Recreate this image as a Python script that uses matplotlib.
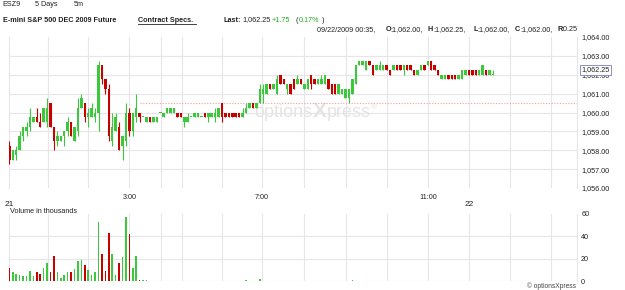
import numpy as np
import matplotlib
matplotlib.use('Agg')
import matplotlib.pyplot as plt
from matplotlib.lines import Line2D
from matplotlib.transforms import blended_transform_factory

plt.rcParams['font.family'] = ['Liberation Sans', 'DejaVu Sans']

################################################################################
# 5 minute bars, ESZ9
opens = [
    1058.25, 1057.5, 1057.75, 1058.0, 1058.75, 1059.0, 1059.25, 1059.5, 1059.75, 1059.5,
    1059.5, 1059.5, 1060.5, 1059.25, 1058.5, 1058.5, 1058.75, 1059.0, 1059.5, 1058.5,
    1059.0, 1060.25, 1060.5, 1059.75, 1059.75, 1059.75, 1060.0, 1062.5, 1061.75, 1061.25,
    1058.5, 1059.0, 1059.25, 1058.25, 1058.5, 1060.0, 1059.0, 1059.75, 1060.0, 1059.75,
    1059.5, 1059.75, 1059.5, 1059.5, 1060.0, 1059.75, 1060.0, 1060.0, 1060.0, 1060.0,
    1060.0, 1059.5, 1059.5, 1059.75, 1059.75, 1059.75, 1059.75, 1060.0, 1059.75, 1059.75,
    1059.75, 1059.75, 1060.5, 1060.0, 1060.0, 1060.0, 1060.0, 1060.0, 1059.75, 1060.0,
    1060.25, 1060.5, 1060.25, 1060.5, 1061.0, 1061.0, 1061.5, 1061.25, 1061.0, 1062.0,
    1061.75, 1061.25, 1061.5, 1061.75, 1061.5, 1061.75, 1061.25, 1061.25, 1062.0, 1061.75,
    1061.5, 1061.5, 1061.5, 1061.75, 1061.5, 1061.5, 1061.0, 1061.0, 1060.75, 1060.75,
    1061.0, 1061.5, 1062.5, 1062.5, 1062.25, 1062.75, 1062.5, 1062.25, 1062.25, 1062.25,
    1062.5, 1062.25, 1062.25, 1062.5, 1062.5, 1062.25, 1062.5, 1062.5, 1062.25, 1062.0,
    1062.25, 1062.5, 1062.5, 1062.75, 1062.5, 1062.25, 1061.75, 1061.75, 1062.0, 1062.0,
    1062.0, 1061.75, 1061.75, 1062.0, 1062.25, 1062.25, 1062.25, 1062.0, 1062.0, 1062.25,
    1062.0, 1062.0]
highs = [
    1058.5, 1058.0, 1058.25, 1059.0, 1059.25, 1059.5, 1060.25, 1059.75, 1060.25, 1060.0,
    1060.25, 1060.75, 1060.5, 1059.25, 1059.0, 1058.75, 1059.0, 1059.75, 1059.5, 1059.25,
    1060.75, 1061.0, 1060.5, 1060.25, 1060.5, 1060.25, 1062.75, 1062.5, 1061.75, 1061.5,
    1060.0, 1060.0, 1059.5, 1058.75, 1060.5, 1060.25, 1060.0, 1061.0, 1060.0, 1059.75,
    1059.75, 1059.75, 1059.75, 1059.75, 1060.0, 1060.0, 1060.25, 1060.25, 1060.25, 1060.0,
    1060.0, 1059.75, 1060.0, 1059.75, 1060.0, 1060.0, 1059.75, 1060.0, 1060.0, 1060.0,
    1060.25, 1060.25, 1060.5, 1060.0, 1060.0, 1060.0, 1060.0, 1060.0, 1060.25, 1060.5,
    1060.5, 1060.5, 1060.5, 1061.5, 1061.5, 1061.5, 1061.5, 1061.5, 1062.0, 1062.0,
    1061.75, 1061.5, 1061.5, 1061.75, 1062.0, 1061.75, 1061.5, 1061.75, 1062.0, 1061.75,
    1061.75, 1062.0, 1062.0, 1061.75, 1061.5, 1061.5, 1061.5, 1061.25, 1061.25, 1061.25,
    1061.75, 1062.5, 1062.75, 1062.75, 1062.75, 1062.75, 1062.5, 1062.5, 1062.75, 1062.5,
    1062.5, 1062.25, 1062.5, 1062.5, 1062.5, 1062.5, 1062.5, 1062.5, 1062.25, 1062.25,
    1062.5, 1062.5, 1062.75, 1062.75, 1062.5, 1062.25, 1062.0, 1062.0, 1062.0, 1062.0,
    1062.0, 1062.0, 1062.25, 1062.25, 1062.25, 1062.25, 1062.25, 1062.25, 1062.5, 1062.25,
    1062.25, 1062.25]
lows = [
    1057.25, 1057.5, 1057.5, 1058.0, 1058.5, 1058.75, 1059.0, 1059.5, 1059.5, 1059.25,
    1059.5, 1059.25, 1059.25, 1058.0, 1058.25, 1058.5, 1058.25, 1058.75, 1058.75, 1058.5,
    1058.75, 1060.25, 1059.5, 1059.25, 1059.75, 1059.5, 1059.0, 1061.5, 1061.0, 1058.5,
    1058.25, 1059.0, 1058.0, 1057.5, 1058.25, 1058.75, 1058.75, 1059.5, 1059.5, 1059.75,
    1059.5, 1059.5, 1059.5, 1059.5, 1060.0, 1059.75, 1060.0, 1060.0, 1060.0, 1059.75,
    1059.75, 1059.25, 1059.5, 1059.75, 1059.75, 1059.75, 1059.75, 1059.75, 1059.5, 1059.75,
    1059.5, 1059.75, 1059.5, 1059.75, 1059.75, 1059.75, 1059.75, 1059.75, 1059.75, 1060.0,
    1060.25, 1060.25, 1060.25, 1060.5, 1060.5, 1061.0, 1061.25, 1061.25, 1061.0, 1061.5,
    1061.5, 1061.0, 1061.0, 1061.25, 1061.5, 1061.5, 1061.25, 1061.25, 1061.25, 1061.5,
    1061.5, 1061.5, 1061.5, 1061.25, 1061.0, 1061.0, 1061.0, 1061.0, 1060.75, 1060.5,
    1061.0, 1061.5, 1062.5, 1062.5, 1062.25, 1062.5, 1062.0, 1062.25, 1062.25, 1062.25,
    1062.25, 1062.0, 1062.25, 1062.25, 1062.25, 1062.0, 1062.25, 1062.25, 1062.0, 1062.0,
    1062.25, 1062.25, 1062.5, 1062.25, 1062.25, 1062.0, 1061.75, 1061.75, 1061.75, 1061.75,
    1061.75, 1061.75, 1061.75, 1062.0, 1062.0, 1062.0, 1062.0, 1062.0, 1062.0, 1062.0,
    1062.0, 1062.0]
closes = [
    1057.5, 1058.0, 1058.0, 1058.75, 1059.25, 1059.25, 1059.75, 1059.75, 1059.5, 1059.25,
    1060.25, 1060.25, 1059.25, 1058.5, 1058.75, 1058.75, 1059.0, 1059.5, 1058.75, 1059.25,
    1060.25, 1060.75, 1059.75, 1060.0, 1060.25, 1060.0, 1062.5, 1061.75, 1061.25, 1058.75,
    1059.25, 1059.75, 1058.0, 1058.75, 1060.0, 1059.0, 1060.0, 1060.25, 1059.75, 1059.75,
    1059.75, 1059.5, 1059.75, 1059.75, 1060.0, 1060.0, 1060.25, 1060.25, 1060.25, 1059.75,
    1059.75, 1059.75, 1059.75, 1059.75, 1060.0, 1060.0, 1059.75, 1059.75, 1060.0, 1060.0,
    1060.0, 1060.25, 1059.75, 1059.75, 1059.75, 1059.75, 1059.75, 1059.75, 1060.0, 1060.25,
    1060.5, 1060.25, 1060.5, 1061.25, 1061.25, 1061.5, 1061.25, 1061.5, 1061.75, 1061.5,
    1061.5, 1061.5, 1061.0, 1061.25, 1061.75, 1061.5, 1061.5, 1061.75, 1061.5, 1061.5,
    1061.75, 1061.75, 1062.0, 1061.25, 1061.0, 1061.0, 1061.5, 1061.25, 1061.25, 1061.25,
    1061.75, 1062.5, 1062.75, 1062.75, 1062.75, 1062.5, 1062.0, 1062.5, 1062.5, 1062.5,
    1062.25, 1062.0, 1062.5, 1062.25, 1062.25, 1062.5, 1062.25, 1062.25, 1062.0, 1062.25,
    1062.5, 1062.25, 1062.75, 1062.25, 1062.25, 1062.0, 1062.0, 1062.0, 1061.75, 1061.75,
    1061.75, 1062.0, 1062.25, 1062.25, 1062.0, 1062.0, 1062.0, 1062.25, 1062.5, 1062.0,
    1062.25, 1062.0]
# volume in thousands
volumes = [
    12, 8.4, 6.6, 5, 4.2, 4.8, 9, 4.2, 7.8, 6, 11.5, 15.7, 8.4, 22, 7.8, 2.4, 5, 7.8, 7.8, 10.5,
    17.5, 18.7, 14, 10, 5, 7.8, 52.8, 24, 9, 43, 24.4, 5, 16.3, 21.4, 57.3, 42, 12, 22.6, 1.2, 0.6,
    0.6, 0, 0, 0, 0, 0, 0, 0, 0, 0, 0, 0, 0, 0, 0, 0, 0, 0, 0, 0,
    0, 0, 0, 0, 0, 0, 0, 0, 0, 0.6, 0, 0, 0, 1.5, 0, 0, 0, 0, 0, 0,
    0, 0, 0, 0, 0, 0, 0, 0, 0, 0, 0, 0, 0, 0, 0, 0, 0, 0, 0, 0,
    1.2, 0, 0, 0, 0, 0, 0, 0, 0, 0, 0, 0, 0, 0, 0, 0, 0, 0, 0, 0,
    0, 0, 0, 0, 0, 0, 0, 0, 0, 0, 0, 0, 0, 0, 0, 0, 0, 0, 0, 0,
    0, 0]

prev_close = 1060.5
last_price = 1062.25
price_ticks = [1056, 1057, 1058, 1059, 1060, 1061, 1062, 1063, 1064]
vol_ticks = [0, 20, 40, 60]
# hour separators, in bar units
hour_lines = [11.3, 23, 35, 44.2, 50.3, 62, 73.7, 85.9, 98.2, 110, 122, 134, 146, 158]
time_labels = {35: '3:00', 73.7: '7:00', 122: '11:00'}
day_labels = {0: '21', 134: '22'}

################################################################################
W, H = 625, 290
def fx(px):
    return px / W
def fy(py):
    return 1 - py / H

green = '#3cc83c'
red = '#c80000'
grid_c = '#e9e4e9'
txt_c = '#222222'
fs = 5.2

fig = plt.figure(figsize=(W / 100, H / 100), dpi=100)
fig.patch.set_facecolor('white')

ax = fig.add_axes([fx(8.5), fy(188), (577 - 8.5) / W, (188 - 37) / H])
axv = fig.add_axes([fx(8.5), fy(281), (577 - 8.5) / W, (281 - 214) / H])

o = np.array(opens)
h = np.array(highs)
l = np.array(lows)
c = np.array(closes)
v = np.array(volumes)
x = np.arange(len(o))
cols = np.where(c >= o, green, red)

# candles
ax.vlines(x, l, h, colors=cols, lw=0.8, zorder=3)
body_lo = np.minimum(o, c)
body_h = np.maximum(np.abs(c - o), 0.05)
ax.bar(x, body_h, bottom=body_lo, width=0.72, color=cols, lw=0, zorder=3)

ax.hlines(prev_close, 38, 165.5, colors='#f0a0a0', linestyles=(0, (1, 1.5)), lw=0.8, zorder=2)

# volume
axv.bar(x, v, width=0.45, color=cols, lw=0, zorder=3)

for a, hl in ((ax, price_ticks[:-1]), (axv, vol_ticks[:-1])):
    a.set_xlim(-0.25, 165.5)
    for g in hour_lines:
        a.axvline(g, color=grid_c, lw=0.8, zorder=0)
    for y in hl:
        a.axhline(y, color=grid_c, lw=0.8, zorder=0)
    for s in ('top', 'bottom'):
        a.spines[s].set_visible(False)
    for s in ('left', 'right'):
        a.spines[s].set_color(grid_c)
        a.spines[s].set_linewidth(0.8)
    a.yaxis.tick_right()
    a.tick_params(axis='y', length=0, pad=3, labelsize=fs, colors=txt_c)

ax.set_ylim(price_ticks[0], price_ticks[-1])
ax.set_yticks(price_ticks)
ax.set_yticklabels(['{:,.2f}'.format(p) for p in price_ticks])
ax.set_xticks(list(time_labels.keys()))
ax.set_xticklabels(list(time_labels.values()))
ax.tick_params(axis='x', length=0, pad=4.5, labelsize=fs, colors=txt_c)

axv.set_ylim(vol_ticks[0], vol_ticks[-1])
axv.set_yticks(vol_ticks)
axv.set_xticks([])

# last price box
ax.text(1.008, last_price, '{:,.2f}'.format(last_price),
        transform=blended_transform_factory(ax.transAxes, ax.transData),
        ha='left', va='center', fontsize=fs, color=txt_c, zorder=5, clip_on=False,
        bbox=dict(boxstyle='square,pad=0.18', fc='white', ec='#8c8cc8', lw=0.7))

# day labels
dtrans = blended_transform_factory(ax.transData, fig.transFigure)
for d, lab in day_labels.items():
    ax.text(d, fy(205), lab, transform=dtrans, ha='center', va='center',
            fontsize=6, color=txt_c, clip_on=False)

# watermark
wm = '#e4e4e4'
ax.text(fx(312), fy(117), 'options', transform=fig.transFigure, ha='right', va='baseline',
        fontsize=13, color=wm, zorder=1)
ax.text(fx(319.5), fy(117), 'X', transform=fig.transFigure, ha='center', va='baseline',
        fontsize=15, fontweight='bold', color=wm, zorder=1)
ax.text(fx(327), fy(117), 'press', transform=fig.transFigure, ha='left', va='baseline',
        fontsize=13, color=wm, zorder=1)
ax.text(fx(371), fy(108), '®', transform=fig.transFigure, ha='left', va='center',
        fontsize=6, color=wm, zorder=1)

# header
fig.text(fx(2), fy(5), 'ESZ9', fontsize=fs, va='center', color=txt_c)
fig.text(fx(35), fy(5), '5 Days', fontsize=fs, va='center', color=txt_c)
fig.text(fx(74), fy(5), '5m', fontsize=fs, va='center', color=txt_c)

fig.text(fx(3), fy(20), 'E-mini S&P 500 DEC 2009 Future', fontsize=fs, fontweight='bold',
         va='center', color=txt_c)
fig.text(fx(138), fy(20), 'Contract Specs.', fontsize=fs, fontweight='bold', va='center', color=txt_c)
fig.add_artist(Line2D([fx(138), fx(196)], [fy(24), fy(24)], color=txt_c, lw=0.6))
fig.text(fx(223), fy(20), 'Last:', fontsize=fs, fontweight='bold', va='center', color=txt_c)
fig.text(fx(242), fy(20), '1,062.25', fontsize=fs, va='center', color=txt_c)
fig.text(fx(272), fy(20), '+1.75', fontsize=fs, va='center', color='#22aa22')
fig.text(fx(296), fy(20), '(', fontsize=fs, va='center', color=txt_c)
fig.text(fx(298.5), fy(20), '0.17%', fontsize=fs, va='center', color='#22aa22')
fig.text(fx(322), fy(20), ')', fontsize=fs, va='center', color=txt_c)

info = [(317, '09/22/2009 00:35,', False),
        (386, 'O', True), (390.5, ':1,062.00,', False),
        (428, 'H', True), (433, ':1,062.25,', False),
        (473, 'L', True), (477, ':1,062.00,', False),
        (515, 'C', True), (520, ':1,062.00,', False),
        (557, 'R', True), (561, ':0.25', False)]
for px, s, b in info:
    fig.text(fx(px), fy(29.5), s, fontsize=fs, va='center', color=txt_c,
             fontweight='bold' if b else 'normal')

fig.text(fx(10), fy(211.5), 'Volume in thousands', fontsize=fs, va='center', color=txt_c)
fig.text(fx(576), fy(286), '© optionsXpress', fontsize=4.8, ha='right', va='center', color='#444444')

fig.savefig('out.png', dpi=100)
